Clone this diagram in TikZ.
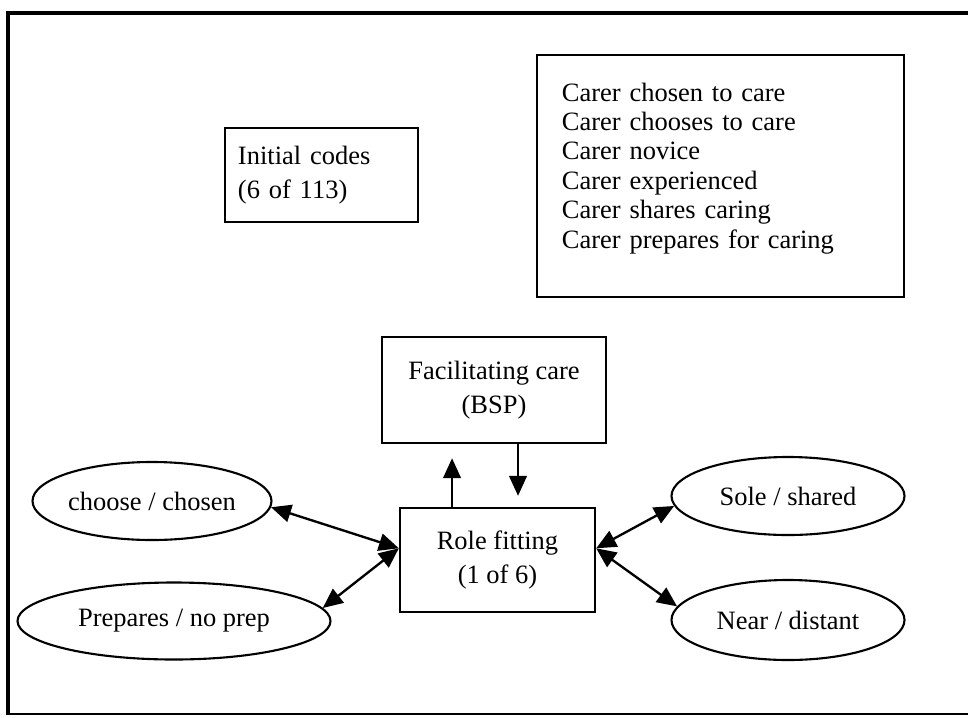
\documentclass[tikz,border=0pt]{standalone}
\usepackage{fontspec}
\setmainfont{Liberation Serif}
\usetikzlibrary{arrows.meta,shapes.geometric}

\begin{document}
\begin{tikzpicture}[x=0.03cm, y=-0.03cm,
    box/.style={rectangle, draw, line width=2pt, align=center, inner sep=0pt,
        font=\fontsize{22.6}{28.6}\selectfont},
    oval/.style={ellipse, draw, line width=1.8pt, inner sep=0pt,
        font=\fontsize{22.6}{27}\selectfont},
    arr/.style={line width=2pt, -{Triangle[length=17pt, width=15pt]}},
    dbl/.style={line width=2pt, {Triangle[length=17pt, width=15pt]}-{Triangle[length=17pt, width=15pt]}}
]
\useasboundingbox (0,0) rectangle (968,717);

% outer frame (open on the right)
\draw[line width=4pt] (968,13) -- (8,13);
\draw[line width=3pt] (8,11) -- (8,715);
\draw[line width=2pt] (7,714) -- (968,714);

% codes
\node[box, align=left, inner xsep=11.1pt, text width=5.01cm, minimum height=2.82cm] (initial) at (321.5,175) {Initial codes\\(6 of 113)};
\node[box, align=left, inner xsep=21.3pt, text width=9.51cm, minimum height=7.26cm,
      font=\fontsize{22.6}{25.1}\selectfont] (codes) at (720.5,176)
    {Carer chosen to care\\Carer chooses to care\\Carer novice\\Carer experienced\\Carer shares caring\\Carer prepares for caring\rule[-18pt]{0pt}{18pt}};

% categories
\node[box, minimum width=6.72cm, minimum height=3.18cm] (fac) at (494,390) {Facilitating care\\(BSP)};
\node[box, minimum width=5.85cm, minimum height=3.12cm] (role) at (497.5,560) {Role fitting\\(1 of 6)};

\node[oval, minimum width=7.17cm, minimum height=2.34cm] (choose) at (152,501) {choose / chosen};
\node[oval, minimum width=9.39cm, minimum height=2.31cm] (prep) at (174,621) {Prepares / no prep};
\node[oval, minimum width=6.99cm, minimum height=2.34cm] (sole) at (788,496) {Sole / shared};
\node[oval, minimum width=6.99cm, minimum height=2.4cm] (near) at (788,620) {Near / distant};

% links
\coordinate (upfoot) at ([xshift=-38.8pt]role.north);
\coordinate (downtop) at ([xshift=20.5pt]fac.south);
\draw[arr, shorten >=12pt] (upfoot) -- (upfoot |- fac.south);
\draw[arr, shorten >=9.4pt] (downtop) -- (downtop |- role.north);

\draw[dbl] (choose.-3) -- ([yshift=10pt]role.west);
\draw[dbl] (prep.5) -- ([yshift=10pt]role.west);
\draw[dbl] ([yshift=10pt]role.east) -- (sole.185);
\draw[dbl] ([yshift=10pt]role.east) -- (near.173);
\end{tikzpicture}
\end{document}
